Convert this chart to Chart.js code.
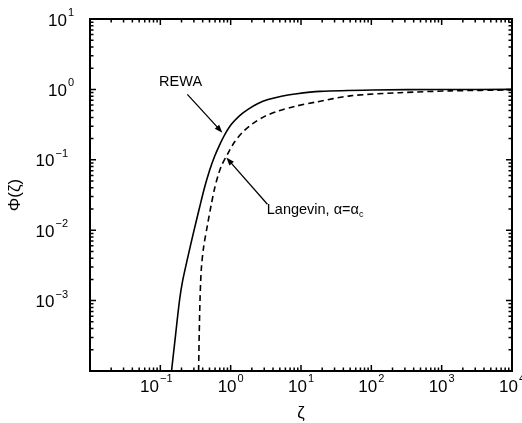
<!DOCTYPE html>
<html>
<head>
<meta charset="utf-8">
<script src="https://cdn.jsdelivr.net/npm/chart.js@4/dist/chart.umd.min.js"></script>
<style>
  html, body { margin: 0; padding: 0; background: #fff; }
  canvas { display: block; }
</style>
</head>
<body>
<canvas id="myChart" width="522" height="423"></canvas>
<script>
// axis ranges (log-log)
var _xMin = 0.01, _xMax = 10000;
var _yMin = 1e-4, _yMax = 10;
// tick label exponents
var _xTickExp = [-1, 0, 1, 2, 3, 4];
var _yTickExp = [1, 0, -1, -2, -3];

// REWA curve (solid)
var _zetaRewa = [0.1443, 0.1646, 0.1877, 0.2071, 0.2441, 0.2972, 0.3618, 0.4263, 0.5023, 0.5917, 0.6972, 0.8214, 1.023, 1.343, 1.764, 2.448, 3.399, 5.276, 8.159, 18.53, 102.0, 1013, 10000];
var _phiRewa  = [1e-4, 3.24e-4, 1.02e-3, 1.89e-3, 4.01e-3, 9.37e-3, 0.0212, 0.0407, 0.0710, 0.1121, 0.1632, 0.2262, 0.3188, 0.4249, 0.5204, 0.6290, 0.7166, 0.8006, 0.8606, 0.9368, 0.9806, 0.9967, 1.0];

// Langevin curve, alpha = alpha_c (dashed)
var _zetaLang = [0.350, 0.357, 0.3665, 0.3825, 0.4124, 0.4703, 0.5276, 0.5917, 0.6636, 0.7444, 0.9153, 1.140, 1.497, 2.078, 3.050, 4.718, 8.159, 16.80, 49.57, 255.6, 1317, 10000];
var _phiLang  = [1e-4, 3.24e-4, 1.02e-3, 2.80e-3, 5.74e-3, 0.01217, 0.02263, 0.03942, 0.06028, 0.08356, 0.1237, 0.1800, 0.2494, 0.3294, 0.4140, 0.4923, 0.5741, 0.6649, 0.8089, 0.8979, 0.9522, 0.9838];

// annotations, in data coordinates
var _rewaLabel = {x: 0.194, y: 1.26, text: "REWA"};
var _rewaArrow = {x0: 0.242, y0: 0.849, x1: 0.762, y1: 0.243};
var _langLabel = {x: 3.26, y: 0.0193, text: "Langevin, \u03b1=\u03b1", sub: "c"};
var _langArrow = {x0: 3.33, y0: 0.0234, x1: 0.868, y1: 0.1074};

function toPoints(xs, ys) {
    var pts = [];
    for (var i = 0; i < xs.length; i++) pts.push({x: xs[i], y: ys[i]});
    return pts;
}

var FONT = '"Liberation Sans", Arial, Helvetica, sans-serif';

function drawArrow(ctx, xs, ys, a) {
    var x0 = xs.getPixelForValue(a.x0), y0 = ys.getPixelForValue(a.y0);
    var x1 = xs.getPixelForValue(a.x1), y1 = ys.getPixelForValue(a.y1);
    var ang = Math.atan2(y1 - y0, x1 - x0);
    var len = 8, half = 3;
    ctx.strokeStyle = "#000";
    ctx.fillStyle = "#000";
    ctx.lineWidth = 1.3;
    ctx.setLineDash([]);
    ctx.beginPath();
    ctx.moveTo(x0, y0);
    ctx.lineTo(x1 - Math.cos(ang) * len * 0.8, y1 - Math.sin(ang) * len * 0.8);
    ctx.stroke();
    ctx.beginPath();
    ctx.moveTo(x1, y1);
    ctx.lineTo(x1 - Math.cos(ang) * len - Math.sin(ang) * half, y1 - Math.sin(ang) * len + Math.cos(ang) * half);
    ctx.lineTo(x1 - Math.cos(ang) * len + Math.sin(ang) * half, y1 - Math.sin(ang) * len - Math.cos(ang) * half);
    ctx.closePath();
    ctx.fill();
}

// power of ten label: "10" plus superscript
function drawPow(ctx, exp, x, y, align) {
    var sup = exp < 0 ? "\u2212" + Math.abs(exp) : String(exp);
    ctx.font = "17px " + FONT;
    var wBase = ctx.measureText("10").width;
    ctx.font = "11px " + FONT;
    var wSup = ctx.measureText(sup).width;
    var left;
    if (align === "right") left = x - wBase - wSup - 1;
    else left = x - (wBase + wSup + 1) / 2;
    ctx.fillStyle = "#000";
    ctx.textAlign = "left";
    ctx.textBaseline = "middle";
    ctx.font = "17px " + FONT;
    ctx.fillText("10", left, y);
    ctx.font = "11px " + FONT;
    ctx.fillText(sup, left + wBase + 1, y - 8);
}

var framePlugin = {
    id: "frame",
    afterDraw: function(chart) {
        var ctx = chart.ctx;
        var a = chart.chartArea;
        var xs = chart.scales.x, ys = chart.scales.y;
        ctx.save();
        // minor / major ticks, pointing inward, on all four sides
        ctx.strokeStyle = "#000";
        ctx.lineWidth = 1.5;
        ctx.setLineDash([]);
        ctx.beginPath();
        for (var k = -2; k <= 4; k++) {
            for (var m = 1; m <= 9; m++) {
                var v = m * Math.pow(10, k);
                if (v <= _xMin * 1.0001 || v >= _xMax * 0.9999) continue;
                var px = xs.getPixelForValue(v);
                var len = (m === 1) ? 6 : 3.5;
                ctx.moveTo(px, a.bottom); ctx.lineTo(px, a.bottom - len);
                ctx.moveTo(px, a.top); ctx.lineTo(px, a.top + len);
            }
        }
        for (var k2 = -4; k2 <= 1; k2++) {
            for (var m2 = 1; m2 <= 9; m2++) {
                var v2 = m2 * Math.pow(10, k2);
                if (v2 <= _yMin * 1.0001 || v2 >= _yMax * 0.9999) continue;
                var py = ys.getPixelForValue(v2);
                var len2 = (m2 === 1) ? 6 : 3.5;
                ctx.moveTo(a.left, py); ctx.lineTo(a.left + len2, py);
                ctx.moveTo(a.right, py); ctx.lineTo(a.right - len2, py);
            }
        }
        ctx.stroke();
        // frame
        ctx.lineWidth = 2;
        ctx.strokeRect(a.left, a.top, a.right - a.left, a.bottom - a.top);

        // tick labels
        for (var i = 0; i < _xTickExp.length; i++) {
            var e = _xTickExp[i];
            var tx = xs.getPixelForValue(Math.pow(10, e));
            drawPow(ctx, e, tx - (e < 0 ? 4 : 0), a.bottom + 16, "center");
        }
        for (var j = 0; j < _yTickExp.length; j++) {
            var ey = _yTickExp[j];
            var ty = ys.getPixelForValue(Math.pow(10, ey));
            drawPow(ctx, ey, a.left - (ey < 0 ? 22 : 16), ty + 2, "right");
        }

        // axis titles
        ctx.fillStyle = "#000";
        ctx.font = "17px " + FONT;
        ctx.textAlign = "center";
        ctx.textBaseline = "middle";
        ctx.fillText("\u03b6", (a.left + a.right) / 2, 413);
        ctx.save();
        ctx.translate(15, (a.top + a.bottom) / 2);
        ctx.rotate(-Math.PI / 2);
        ctx.fillText("\u03a6(\u03b6)", 0, 0);
        ctx.restore();

        // annotations
        ctx.font = "14.5px " + FONT;
        ctx.textAlign = "center";
        ctx.fillText(_rewaLabel.text, xs.getPixelForValue(_rewaLabel.x), ys.getPixelForValue(_rewaLabel.y));
        drawArrow(ctx, xs, ys, _rewaArrow);
        ctx.font = "14.5px " + FONT;
        ctx.textAlign = "left";
        var lx = xs.getPixelForValue(_langLabel.x), ly = ys.getPixelForValue(_langLabel.y);
        ctx.fillText(_langLabel.text, lx, ly);
        var lw = ctx.measureText(_langLabel.text).width;
        ctx.font = "9px " + FONT;
        ctx.fillText(_langLabel.sub, lx + lw, ly + 4);
        drawArrow(ctx, xs, ys, _langArrow);
        ctx.restore();
    }
};

var ctx = document.getElementById("myChart").getContext("2d");
var myChart = new Chart(ctx, {
    type: "scatter",
    data: {
        datasets: [{
            label: "REWA",
            data: toPoints(_zetaRewa, _phiRewa),
            showLine: true,
            borderColor: "#000",
            borderWidth: 1.6,
            pointRadius: 0,
            tension: 0.3,
            fill: false
        }, {
            label: "Langevin",
            data: toPoints(_zetaLang, _phiLang),
            showLine: true,
            borderColor: "#000",
            borderWidth: 1.6,
            borderDash: [6, 4],
            pointRadius: 0,
            tension: 0.3,
            fill: false
        }]
    },
    options: {
        responsive: false,
        animation: false,
        layout: { padding: { left: 90, right: 10, top: 19, bottom: 52 } },
        plugins: {
            legend: { display: false },
            tooltip: { enabled: false }
        },
        scales: {
            x: { type: "logarithmic", min: _xMin, max: _xMax, display: false },
            y: { type: "logarithmic", min: _yMin, max: _yMax, display: false }
        }
    },
    plugins: [framePlugin]
});
</script>
</body>
</html>
